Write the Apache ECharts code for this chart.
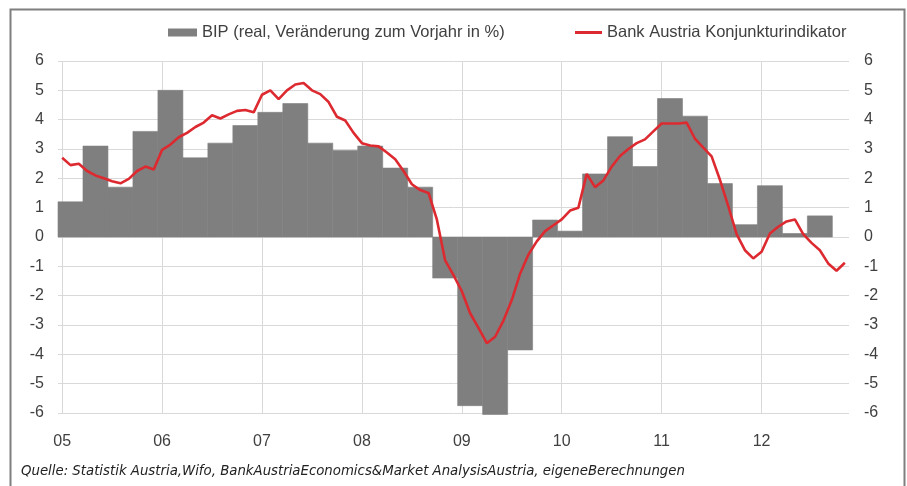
<html>
<head>
<meta charset="utf-8">
<title>BIP und Konjunkturindikator</title>
<script src="https://cdn.jsdelivr.net/npm/echarts@6/dist/echarts.min.js"></script>
<style>
  body { margin: 0; background: #ffffff; }
  #chart { width: 907px; height: 486px; }
</style>
</head>
<body>
<div id="chart"></div>
<script>
// Jahre auf der x-Achse, Monate Jan 2005 bis Nov 2012
var years = ['2005', '2006', '2007', '2008', '2009', '2010', '2011', '2012']
var monthNames = ['01', '02', '03', '04', '05', '06', '07', '08', '09', '10', '11', '12']
var lastMonth = '2012-11'

var bipName = 'BIP (real, Veränderung zum Vorjahr in %)'
var indName = 'Bank Austria Konjunkturindikator'

// BIP, Quartale Q1 2005 .. Q3 2012
var bip = [
  1.2, 3.1, 1.7, 3.6,
  5.0, 2.7, 3.2, 3.8,
  4.25, 4.55, 3.2, 2.95,
  3.1, 2.35, 1.7, -1.4,
  -5.75, -6.05, -3.85, 0.58,
  0.2, 2.15, 3.42, 2.4,
  4.72, 4.12, 1.82, 0.42,
  1.75, 0.12, 0.72
]

// Konjunkturindikator, monatlich
var indikator = [
  2.7, 2.45, 2.5, 2.25, 2.1, 2.0, 1.9, 1.83, 1.98, 2.25, 2.4, 2.3,
  2.97, 3.15, 3.4, 3.55, 3.75, 3.9, 4.15, 4.04, 4.18, 4.3, 4.33, 4.25,
  4.85, 5.0, 4.7, 5.0, 5.2, 5.25, 5.0, 4.87, 4.6, 4.1, 3.97, 3.55,
  3.2, 3.12, 3.09, 2.88, 2.65, 2.25, 1.8, 1.6, 1.5, 0.6, -0.8, -1.3,
  -1.85, -2.6, -3.1, -3.62, -3.4, -2.85, -2.15, -1.25, -0.6, -0.15, 0.2, 0.4,
  0.6, 0.9, 1.0, 2.15, 1.7, 1.93, 2.4, 2.76, 3.0, 3.2, 3.33, 3.6,
  3.87, 3.87, 3.87, 3.9, 3.35, 3.05, 2.75, 1.95, 1.05, 0.1, -0.45, -0.73,
  -0.5, 0.12, 0.35, 0.53, 0.6, 0.1, -0.2, -0.45, -0.9, -1.15, -0.88
]

var quelle = 'Quelle: Statistik Austria,Wifo, BankAustriaEconomics&Market AnalysisAustria, eigeneBerechnungen'

var months = []
years.forEach(function (y) {
  monthNames.forEach(function (m) {
    var key = y + '-' + m
    if (key <= lastMonth) months.push(key)
  })
})

var chart = echarts.init(document.getElementById('chart'))

var axisFont = { fontSize: 16, color: '#404040', fontFamily: 'Liberation Sans, Arial, sans-serif' }
var legendFont = { fontSize: 16.5, color: '#404040', fontFamily: 'Liberation Sans, Arial, sans-serif' }

chart.setOption({
  animation: false,
  grid: { left: 58, right: 58, top: 61, bottom: 73 },
  legend: [
    {
      data: [{ name: bipName, icon: 'rect' }],
      left: 168, top: 24, padding: 0,
      itemWidth: 29, itemHeight: 8,
      selectedMode: false,
      textStyle: legendFont
    },
    {
      data: [{ name: indName, icon: 'rect' }],
      left: 575, top: 24, padding: 0,
      itemWidth: 27, itemHeight: 3,
      selectedMode: false,
      textStyle: legendFont
    }
  ],
  xAxis: {
    type: 'category',
    data: months,
    boundaryGap: true,
    axisLine: { show: false },
    axisTick: { show: false },
    splitLine: { show: false },
    axisLabel: Object.assign({
      margin: 21,
      interval: function (i) { return i % 12 === 0 },
      formatter: function (v) { return v.slice(2, 4) }
    }, axisFont)
  },
  yAxis: [
    {
      type: 'value', min: -6, max: 6, interval: 1, position: 'left',
      axisLine: { show: false }, axisTick: { show: false },
      axisLabel: Object.assign({ margin: 14 }, axisFont),
      splitLine: { lineStyle: { color: '#d9d9d9', width: 1 } }
    },
    {
      type: 'value', min: -6, max: 6, interval: 1, position: 'right',
      axisLine: { show: false }, axisTick: { show: false },
      axisLabel: Object.assign({ margin: 15 }, axisFont),
      splitLine: { show: false }
    }
  ],
  series: [
    {
      name: bipName,
      type: 'custom',
      z: 2,
      itemStyle: { color: '#7f7f7f' },
      encode: { x: 0, y: 1 },
      data: bip.map(function (v, q) { return [q * 3, v] }),
      // Quartalsbalken ueber drei Monate
      renderItem: function (params, api) {
        var base = api.coord([api.value(0), 0])
        var top = api.coord([api.value(0), api.value(1)])
        var bw = api.size([1, 0])[0]
        return {
          type: 'rect',
          shape: {
            x: base[0] - bw / 2,
            y: Math.min(base[1], top[1]),
            width: bw * 3,
            height: Math.abs(top[1] - base[1])
          },
          style: { fill: api.visual('color'), stroke: api.visual('color'), lineWidth: 0.6 }
        }
      }
    },
    {
      name: indName,
      type: 'line',
      z: 3,
      data: indikator,
      symbol: 'none',
      smooth: false,
      lineStyle: { color: '#dc2a30', width: 2.6 },
      itemStyle: { color: '#dc2a30' },
      // senkrechte Gitterlinien je Jahr
      markLine: {
        silent: true,
        z: 1,
        symbol: 'none',
        animation: false,
        label: { show: false },
        lineStyle: { color: '#d9d9d9', width: 1, type: 'solid' },
        data: years.map(function (y) { return { xAxis: y + '-01' } })
      }
    }
  ],
  graphic: [
    {
      type: 'polyline',
      silent: true,
      shape: { points: [[10.5, 487], [10.5, 9.5], [904.5, 9.5], [904.5, 487]] },
      style: { stroke: '#7f7f7f', lineWidth: 2, fill: null }
    },
    {
      type: 'text',
      left: 21, top: 465,
      silent: true,
      style: {
        text: quelle,
        fill: '#222222',
        font: 'italic 13.3px "DejaVu Sans", Verdana, sans-serif'
      }
    }
  ]
})
</script>
</body>
</html>
